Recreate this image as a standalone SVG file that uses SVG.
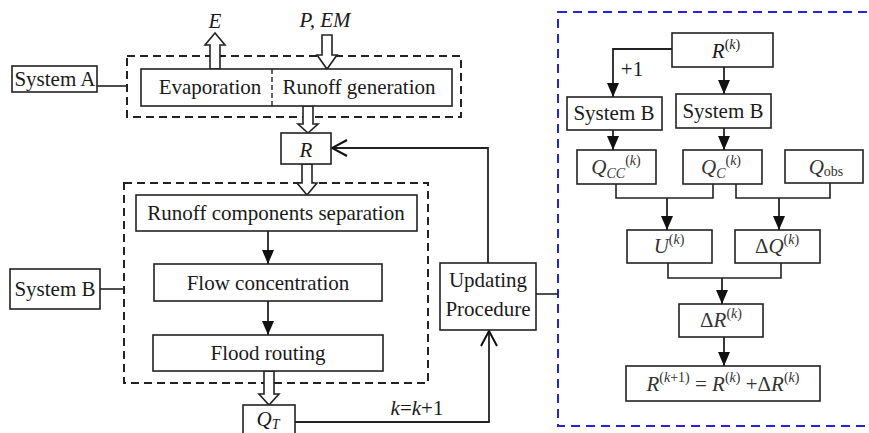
<svg xmlns="http://www.w3.org/2000/svg" width="869" height="433" viewBox="0 0 869 433">
<style>
text{font-family:"Liberation Serif","Times New Roman",serif;font-size:21px;fill:#1a1a1a}
.it{font-style:italic}
.sm{font-size:14px}
.box{fill:#fff;stroke:#222;stroke-width:1.6}
.dash{fill:none;stroke:#222;stroke-width:2;stroke-dasharray:8,5}
.blue{fill:none;stroke:#2424d8;stroke-width:2;stroke-dasharray:9,6}
.ln{fill:none;stroke:#222;stroke-width:1.6}
.ar{fill:none;stroke:#222;stroke-width:1.8;marker-end:url(#tri)}
.op{fill:none;stroke:#222;stroke-width:1.8;marker-end:url(#chev)}
.hol{fill:#fff;stroke:#222;stroke-width:1.6}
.g{fill:#333}
</style>
<defs>
<marker id="tri" markerUnits="userSpaceOnUse" markerWidth="14" markerHeight="14" refX="14" refY="6" orient="auto">
<path d="M0,0 L14,6 L0,12 z" fill="#111"/>
</marker>
<marker id="chev" markerUnits="userSpaceOnUse" markerWidth="18" markerHeight="20" refX="16" refY="9" orient="auto">
<path d="M1,1 L16,9 L1,17" fill="none" stroke="#111" stroke-width="2"/>
</marker>
</defs>

<!-- containers -->
<rect id="systemA-frame" class="dash" x="127" y="56" width="334" height="61"/>
<rect id="systemB-frame" class="dash" x="124" y="183" width="304" height="200"/>
<rect id="update-frame" class="blue" x="558" y="12" width="314" height="414"/>

<g id="connectors">
  <line class="ln" x1="97" y1="86" x2="127" y2="86"/>
  <line class="ln" x1="100" y1="289" x2="124" y2="289"/>
  <line class="ln" x1="536" y1="294" x2="558" y2="294"/>
  <!-- hollow arrows -->
  <path class="hol" d="M210,69 V45 H205 L215,33 L225,45 H220 V69 Z"/>
  <path class="hol" d="M322,35 V55 H317 L327,69 L337,55 H332 V35 Z"/>
  <path class="hol" d="M303,106 V124 H298 L308,133 L318,124 H313 V106 Z"/>
  <path class="hol" d="M302,164 V183 H297 L307,195 L317,183 H312 V164 Z"/>
  <path class="hol" d="M264,371 V394 H259 L269,405 L279,394 H274 V371 Z"/>
  <!-- System B chain -->
  <line class="ar" x1="268" y1="231" x2="268" y2="264"/>
  <line class="ar" x1="268" y1="301" x2="268" y2="335"/>
  <!-- feedback loops -->
  <polyline class="op" points="488,263 488,148 332,148"/>
  <polyline class="op" points="295,422 489,422 489,331"/>
  <!-- right panel -->
  <polyline class="ar" points="672,49 613,49 613,97"/>
  <line class="ar" x1="724" y1="67" x2="724" y2="94"/>
  <line class="ar" x1="613" y1="130" x2="613" y2="150"/>
  <line class="ar" x1="724" y1="128" x2="724" y2="150"/>
  <polyline class="ln" points="616,184 616,198 713,198 713,184"/>
  <polyline class="ln" points="736,184 736,198 830,198 830,183"/>
  <line class="ar" x1="667" y1="198" x2="667" y2="230"/>
  <line class="ar" x1="779" y1="198" x2="779" y2="230"/>
  <polyline class="ln" points="668,263 668,278 781,278 781,263"/>
  <line class="ar" x1="722" y1="278" x2="722" y2="304"/>
  <line class="ar" x1="724" y1="337" x2="724" y2="366"/>
</g>

<g id="label-E"><text class="it" x="215" y="28" text-anchor="middle">E</text></g>
<g id="label-PEM"><text class="it" x="325" y="27" text-anchor="middle">P, EM</text></g>

<g id="systemA"><rect class="box" x="12" y="66" width="85" height="26"/><text x="55" y="86" text-anchor="middle">System A</text></g>
<g id="evap-runoff">
  <rect class="box" x="141" y="69" width="311" height="37"/>
  <line x1="272" y1="69" x2="272" y2="106" stroke="#222" stroke-width="1.4" stroke-dasharray="5,3"/>
  <text x="210" y="94" text-anchor="middle">Evaporation</text>
  <text x="359" y="94" text-anchor="middle">Runoff generation</text>
</g>
<g id="R"><rect class="box" x="281" y="133" width="50" height="31"/><text class="it" x="306" y="157" text-anchor="middle">R</text></g>
<g id="separation"><rect class="box" x="136" y="195" width="281" height="36"/><text x="276" y="220" text-anchor="middle">Runoff components separation</text></g>
<g id="flowconc"><rect class="box" x="154" y="264" width="228" height="37"/><text x="268" y="290" text-anchor="middle">Flow concentration</text></g>
<g id="flood"><rect class="box" x="153" y="335" width="230" height="36"/><text x="268" y="360" text-anchor="middle">Flood routing</text></g>
<g id="QT"><rect class="box" x="243" y="405" width="52" height="40"/><text x="268" y="426" text-anchor="middle"><tspan class="it">Q</tspan><tspan class="it sm" dy="3">T</tspan></text></g>
<g id="systemB"><rect class="box" x="10" y="269" width="90" height="40"/><text x="55" y="296" text-anchor="middle">System B</text></g>
<g id="updating"><rect class="box" x="440" y="263" width="96" height="67"/><text x="488" y="287" text-anchor="middle">Updating</text><text x="488" y="316" text-anchor="middle">Procedure</text></g>
<g id="label-k"><text x="417" y="415" text-anchor="middle"><tspan class="it">k</tspan>=<tspan class="it">k</tspan>+1</text></g>

<g id="Rk"><rect class="box" x="672" y="33" width="101" height="34"/><text x="726" y="58" text-anchor="middle"><tspan class="it">R</tspan><tspan class="sm" dy="-9">(<tspan class="it">k</tspan>)</tspan></text></g>
<g id="label-plus1"><text x="632" y="76" text-anchor="middle">+1</text></g>
<g id="sysB1"><rect class="box" x="567" y="97" width="95" height="33"/><text x="614" y="120" text-anchor="middle">System B</text></g>
<g id="sysB2"><rect class="box" x="676" y="94" width="95" height="34"/><text x="723" y="118" text-anchor="middle">System B</text></g>
<g id="Qcc"><rect class="box" x="577" y="150" width="79" height="34"/><text class="g" x="616" y="174" text-anchor="middle"><tspan class="it">Q</tspan><tspan class="it sm" dy="4">CC</tspan><tspan class="sm" dy="-13">(<tspan class="it">k</tspan>)</tspan></text></g>
<g id="Qc"><rect class="box" x="683" y="150" width="79" height="34"/><text class="g" x="721" y="174" text-anchor="middle"><tspan class="it">Q</tspan><tspan class="it sm" dy="4">C</tspan><tspan class="sm" dy="-13">(<tspan class="it">k</tspan>)</tspan></text></g>
<g id="Qobs"><rect class="box" x="785" y="150" width="78" height="33"/><text class="g" x="826" y="174" text-anchor="middle"><tspan class="it">Q</tspan><tspan class="sm" dy="2">obs</tspan></text></g>
<g id="U"><rect class="box" x="627" y="230" width="85" height="33"/><text class="g" x="669" y="253" text-anchor="middle"><tspan class="it">U</tspan><tspan class="sm" dy="-9">(<tspan class="it">k</tspan>)</tspan></text></g>
<g id="dQ"><rect class="box" x="735" y="230" width="85" height="33"/><text class="g" x="777" y="253" text-anchor="middle">Δ<tspan class="it">Q</tspan><tspan class="sm" dy="-9">(<tspan class="it">k</tspan>)</tspan></text></g>
<g id="dR"><rect class="box" x="679" y="304" width="84" height="33"/><text class="g" x="721" y="327" text-anchor="middle">Δ<tspan class="it">R</tspan><tspan class="sm" dy="-9">(<tspan class="it">k</tspan>)</tspan></text></g>
<g id="final"><rect class="box" x="626" y="366" width="194" height="35"/><text class="g" x="723" y="391" text-anchor="middle"><tspan class="it">R</tspan><tspan class="sm" dy="-9">(<tspan class="it">k</tspan>+1)</tspan><tspan dy="9"> = </tspan><tspan class="it">R</tspan><tspan class="sm" dy="-9">(<tspan class="it">k</tspan>)</tspan><tspan dy="9"> +Δ</tspan><tspan class="it">R</tspan><tspan class="sm" dy="-9">(<tspan class="it">k</tspan>)</tspan></text></g>
</svg>
